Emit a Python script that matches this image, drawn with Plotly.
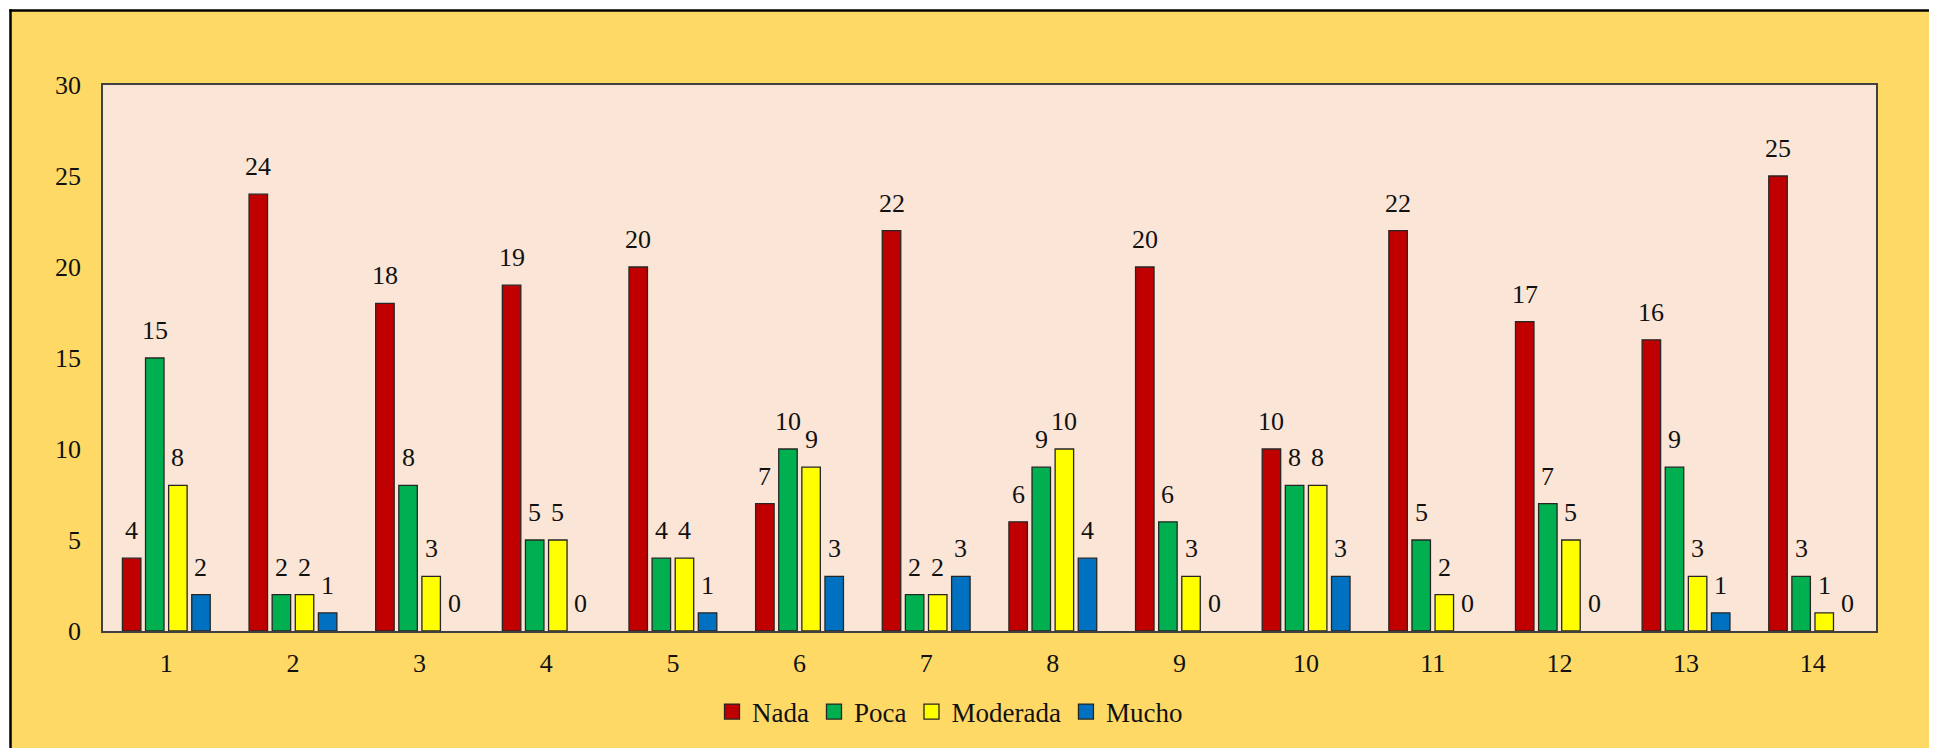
import plotly.graph_objects as go

categories = [str(i) for i in range(1, 15)]
nada = [4, 24, 18, 19, 20, 7, 22, 6, 20, 10, 22, 17, 16, 25]
poca = [15, 2, 8, 5, 4, 10, 2, 9, 6, 8, 5, 7, 9, 3]
moderada = [8, 2, 3, 5, 4, 9, 2, 10, 3, 8, 2, 5, 3, 1]
mucho = [2, 1, 0, 0, 1, 3, 3, 4, 0, 3, 0, 0, 1, 0]
series_names = ["Nada", "Poca", "Moderada", "Mucho"]
series_values = [nada, poca, moderada, mucho]
colors = ["#C00000", "#00B050", "#FFFF00", "#0070C0"]

W, H = 1937, 748
OFF = 8  # page body margin
SX0, SX1, SY0, SY1 = 103, 1876, 85, 631
L = SX0 - OFF
T = SY0 - OFF
R = W - (SX1 - OFF)
B = H - (SY1 - OFF)
plot_w = W - L - R
plot_h = H - T - B
BARGAP = 0.27
BARGROUPGAP = 0.2
FONT = "Liberation Serif, Times New Roman, serif"
EDGE = "#262626"

fig = go.Figure()
for name, vals, col in zip(series_names, series_values, colors):
    fig.add_trace(go.Bar(
        x=categories, y=vals, name=name, showlegend=False,
        marker=dict(color=col, line=dict(color=EDGE, width=[1.3 if v else 0 for v in vals])),
    ))
# legend entries with larger square keys
for name, col in zip(series_names, colors):
    fig.add_trace(go.Scatter(
        x=[None], y=[None], mode="markers", name=name,
        marker=dict(symbol="square", size=15, color=col, line=dict(color=EDGE, width=1.3)),
    ))

cat_px = plot_w / len(categories)
slot = (1 - BARGAP) * cat_px / len(series_names)
annotations = []
for si, vals in enumerate(series_values):
    xs = (si - (len(series_names) - 1) / 2) * slot
    for ci, v in enumerate(vals):
        annotations.append(dict(
            x=ci, y=v, xref="x", yref="y", text=str(v),
            showarrow=False, xshift=xs, yshift=11, yanchor="bottom",
            font=dict(family=FONT, size=26, color="#111111"),
        ))

def px_x(p):
    return (p - SX0) / (SX1 - SX0)

def px_y(p):
    return (SY1 - p) / (SY1 - SY0)

shapes = [
    dict(type="rect", xref="paper", yref="paper", x0=px_x(-20), x1=px_x(10.5),
         y0=px_y(-20), y1=px_y(H + 20), fillcolor="white", line=dict(width=0), layer="below"),
    dict(type="rect", xref="paper", yref="paper", x0=px_x(-20), x1=px_x(W + 20),
         y0=px_y(-20), y1=px_y(10.5), fillcolor="white", line=dict(width=0), layer="below"),
    dict(type="line", xref="paper", yref="paper", x0=px_x(10.5), x1=px_x(10.5),
         y0=px_y(9.3), y1=px_y(H + 20), line=dict(color="#000000", width=2.5)),
    dict(type="line", xref="paper", yref="paper", x0=px_x(9.3), x1=px_x(W + 20),
         y0=px_y(10.5), y1=px_y(10.5), line=dict(color="#000000", width=2.5)),
]

fig.update_layout(
    width=W, height=H,
    margin=dict(l=L, r=R, t=T, b=B, autoexpand=False),
    paper_bgcolor="#FFD966",
    plot_bgcolor="#FBE5D6",
    barmode="group", bargap=BARGAP, bargroupgap=BARGROUPGAP,
    font=dict(family=FONT, size=26, color="#111111"),
    showlegend=True,
    legend=dict(orientation="h", x=px_x(950), xanchor="center", y=px_y(712), yanchor="middle",
                font=dict(family=FONT, size=27, color="#111111"),
                bgcolor="rgba(0,0,0,0)", traceorder="normal", itemwidth=30),
    annotations=annotations,
    shapes=shapes,
)
fig.update_xaxes(
    type="category", showgrid=False, showline=True, linecolor="#404040", linewidth=1.5,
    mirror=True, ticks="", ticklabelstandoff=8, range=[-0.5, len(categories) - 0.5],
    tickfont=dict(family=FONT, size=26, color="#111111"),
)
fig.update_yaxes(
    range=[0, 30], dtick=5, showgrid=False, showline=True, linecolor="#404040", linewidth=1.5,
    mirror=True, ticks="", ticklabelstandoff=15, zeroline=False,
    tickfont=dict(family=FONT, size=26, color="#111111"),
)

fig.write_html("out.html")
